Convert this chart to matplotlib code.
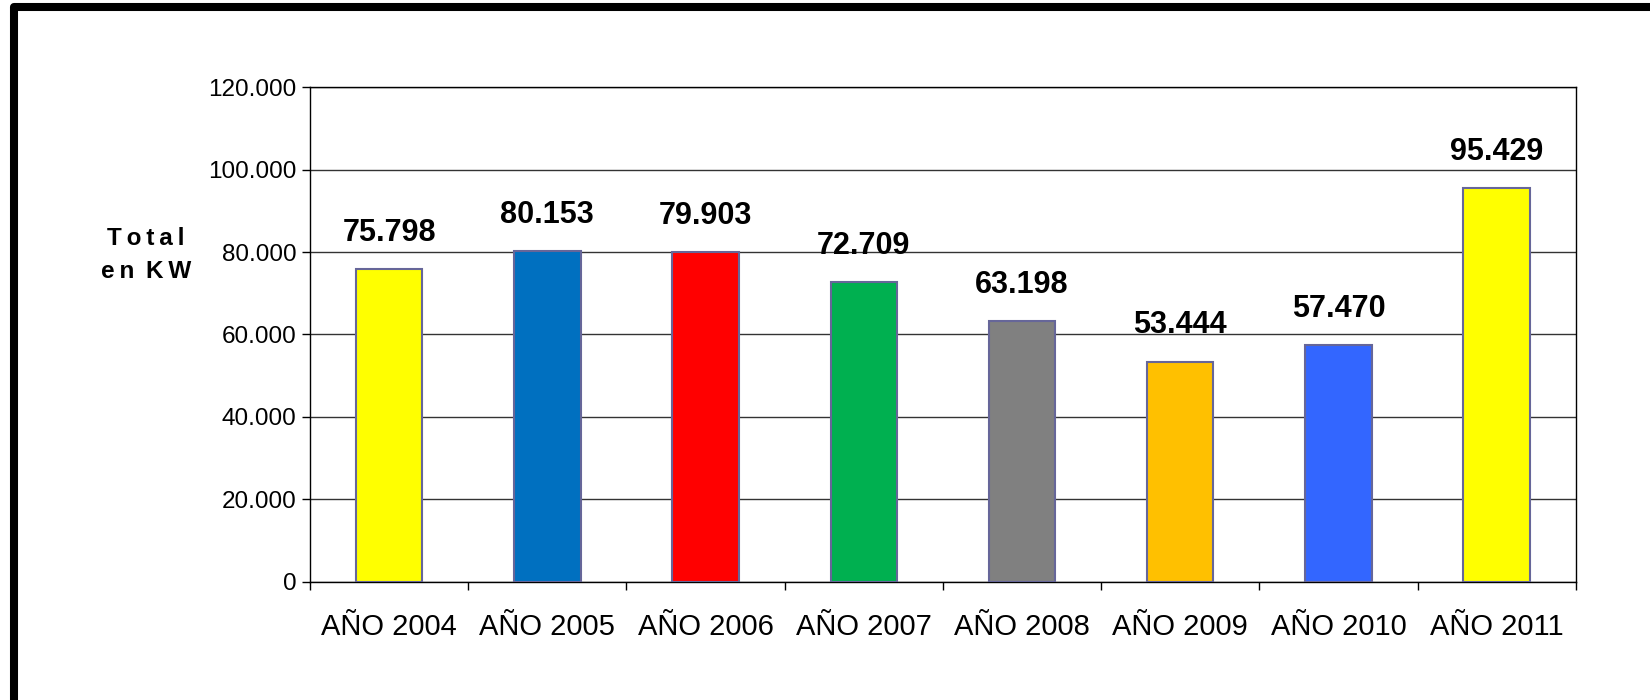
import numpy as np
import matplotlib.pyplot as plt
from matplotlib.patches import Rectangle

plt.rcParams['font.family'] = ['Liberation Sans', 'DejaVu Sans']

# Data
years = ['AÑO 2004', 'AÑO 2005', 'AÑO 2006', 'AÑO 2007',
         'AÑO 2008', 'AÑO 2009', 'AÑO 2010', 'AÑO 2011']
total_kw = [75798, 80153, 79903, 72709, 63198, 53444, 57470, 95429]
value_labels = ['75.798', '80.153', '79.903', '72.709',
                '63.198', '53.444', '57.470', '95.429']
bar_colors = ['#FFFF00', '#0070C0', '#FF0000', '#00B050',
              '#808080', '#FFC000', '#3366FF', '#FFFF00']
y_ticks = [0, 20000, 40000, 60000, 80000, 100000, 120000]
y_tick_labels = ['0', '20.000', '40.000', '60.000', '80.000', '100.000', '120.000']

fig = plt.figure(figsize=(16.5, 7), dpi=100)
ax = fig.add_axes([0.1879, 0.1686, 0.7671, 0.7071])

x = np.arange(len(years))
bars = ax.bar(x, total_kw, width=0.42, color=bar_colors,
              edgecolor='#666699', linewidth=1.5, zorder=3)

# Value labels over the bars
for xi, val, lab in zip(x, total_kw, value_labels):
    ax.annotate(lab, xy=(xi, val), xytext=(0, 26), textcoords='offset points',
                ha='center', va='center', fontsize=22, fontweight='bold',
                color='black')

ax.set_xlim(-0.5, len(years) - 0.5)
ax.set_ylim(0, 120000)
ax.set_yticks(y_ticks)
ax.set_yticklabels(y_tick_labels, fontsize=17.5)
ax.set_xticks(x)
ax.set_xticklabels(years, fontsize=21)
ax.set_xticks(np.arange(-0.5, len(years), 1), minor=True)

ax.tick_params(axis='y', direction='out', length=6, width=1, pad=4, colors='black')
ax.tick_params(axis='x', which='major', length=0, pad=22)
ax.tick_params(axis='x', which='minor', direction='out', length=6, width=1)

ax.grid(True, axis='y', color='#333333', linewidth=1, zorder=0)
ax.set_axisbelow(True)
for s in ax.spines.values():
    s.set_color('black')
    s.set_linewidth(1)

# Axis title (letter-spaced as in the original)
fig.text(0.0885, 0.636, 'T\u2009o\u2009t\u2009a\u2009l\ne\u2009n\u2009 K\u2009W',
         ha='center', va='center', fontsize=17.5, fontweight='bold',
         linespacing=1.55)

# Outer frame
frame = Rectangle((0.0085, -0.004), 1.2, 1 - 7.5 / 700 + 0.004,
                  transform=fig.transFigure, fill=False, edgecolor='black',
                  linewidth=5.8, joinstyle='round', clip_on=False)
fig.patches.append(frame)

fig.savefig('out.png', dpi=100, facecolor='white')
